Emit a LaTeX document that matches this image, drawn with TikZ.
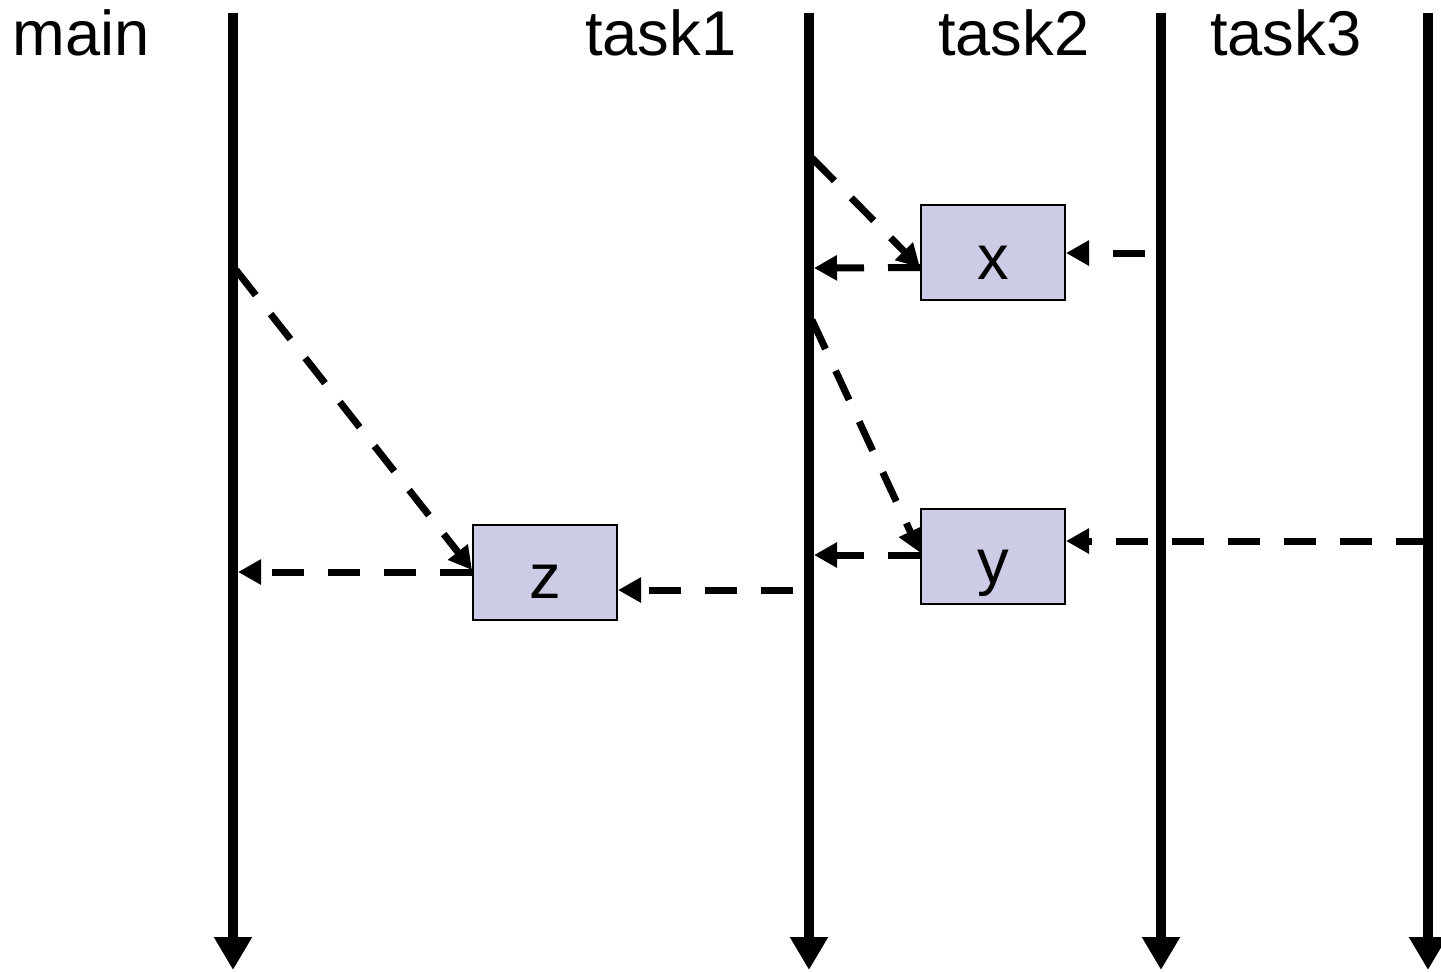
\documentclass[tikz,border=0pt]{standalone}
\usepackage{fontspec}
\setmainfont{Liberation Sans}
\usetikzlibrary{arrows.meta}

\definecolor{boxfill}{RGB}{204,204,230}

\tikzset{
  lifeline/.style={line width=1mm, -{Triangle[width=3.6mm,length=3.3mm]}},
  msg/.style={line width=0.7mm, dash pattern=on 3.2mm off 2.4mm,
    -{Triangle[width=2.4mm,length=2.3mm]}},
  var/.style={draw, line width=0.2mm, fill=boxfill, minimum width=14.4mm,
    minimum height=9.5mm, inner sep=0pt, text height=5.3mm, text depth=0mm,
    font=\fontsize{18}{20}\selectfont},
  lane/.style={inner sep=0pt, font=\fontsize{18}{20}\selectfont}
}

\begin{document}
\begin{tikzpicture}[x=0.1mm, y=-0.1mm]
    \useasboundingbox (0,0) rectangle (1441,971);

    % lifelines
    \foreach \name/\x in {main/233, task1/809, task2/1161, task3/1428} {
        \coordinate (\name-top) at (\x,13);
        \coordinate (\name-end) at (\x,970);
        \draw[lifeline] (\name-top) -- (\name-end);
    }

    \node[lane, anchor=base west] (main label) at (12,55) {main};
    \node[lane, anchor=base east] (task1 label) at (737,55) {task1};
    \node[lane, anchor=base east] (task2 label) at (1090,55) {task2};
    \node[lane, anchor=base east] (task3 label) at (1362,55) {task3};

    % futures
    \node[var] (x) at (993,252.5) {x};
    \node[var] (y) at (993,556.5) {y};
    \node[var] (z) at (545,572) {z};

    % points on the lifelines
    \coordinate (main spawn) at (236,270);
    \coordinate (main join) at (238,572);
    \coordinate (task1 spawn x) at (812,158);
    \coordinate (task1 join x) at (814,268);
    \coordinate (task1 spawn y) at (812,320);
    \coordinate (task1 join y) at (814,555);
    \coordinate (task1 put) at (793,590);
    \coordinate (task2 put) at (1145,253);
    \coordinate (task3 put) at (1428,541);

    \draw[msg] (main spawn) -- ([yshift=0.2mm]z.west);
    \draw[msg] (z.west) -- (main join);
    \draw[msg] (task1 put) -- (z.east |- task1 put);

    \draw[msg] (task1 spawn x) -- ([yshift=-1.5mm]x.west);
    \draw[msg] ([yshift=-1.5mm]x.west) -- (task1 join x);
    \draw[msg] (task2 put) -- (x.east |- task2 put);

    \draw[msg] (task1 spawn y) -- ([yshift=0.4mm]y.west);
    \draw[msg] (y.west |- task1 join y) -- (task1 join y);
    \draw[msg] (task3 put) -- (y.east |- task3 put);
\end{tikzpicture}
\end{document}
